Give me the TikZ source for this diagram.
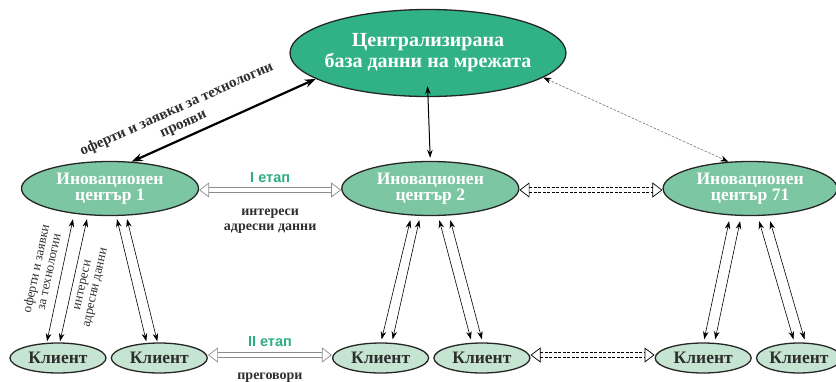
\documentclass[tikz,border=0pt]{standalone}
\usepackage{fontspec}
\setmainfont{Liberation Serif}
\newfontfamily\etapfont{Liberation Sans}
\usetikzlibrary{arrows.meta,shapes.geometric,calc,positioning}

\definecolor{dbgreen}{HTML}{30B286}
\definecolor{icgreen}{HTML}{7DC6A3}
\definecolor{clgreen}{HTML}{C5E4D2}
\definecolor{etapgreen}{HTML}{2CAE80}
\definecolor{txtgray}{HTML}{2E2E2E}

\begin{document}
\begin{tikzpicture}[x=1pt, y=-1pt, >={Stealth[length=8pt,width=5.5pt]}, line width=0.6pt]

    \tikzstyle{base} = [ellipse, draw=black!85, line width=1.3pt, inner sep=0pt, align=center]
    \tikzstyle{dbnode} = [base, fill=dbgreen, text=white, minimum width=276pt, minimum height=87pt, inner xsep=-30pt, font=\fontsize{20}{21}\selectfont\bfseries]
    \tikzstyle{icnode} = [base, fill=icgreen, text=white, minimum width=177pt, minimum height=54pt, font=\fontsize{17.5}{15.5}\selectfont\bfseries]
    \tikzstyle{clnode} = [base, fill=clgreen, text=txtgray, minimum width=96pt, minimum height=30pt, font=\fontsize{17.5}{18}\selectfont\bfseries]
    \tikzstyle{lbl} = [text=txtgray, align=center, font=\fontsize{14}{15}\selectfont\bfseries]
    \tikzstyle{vlbl} = [text=txtgray, align=center, font=\fontsize{13}{13}\selectfont]
    \tikzstyle{etap} = [text=etapgreen, font=\fontsize{14.5}{15}\selectfont\etapfont\bfseries]
    \tikzstyle{hollow} = [draw=black!45, line width=0.7pt, double=white, double distance=4.5pt, {Triangle[open,length=10pt,width=15pt]}-{Triangle[open,length=10pt,width=15pt]}]
    \tikzstyle{hollowdash} = [hollow, draw=black, dash pattern=on 3pt off 1.5pt]

    \useasboundingbox (0,0) rectangle (836,381);

    \node (db)   [dbnode] at (428,53)          {Централизирана\\база данни на мрежата};

    \node (ic1)  [icnode] at (110,188.5)       {Иновационен\\център 1};
    \node (ic2)  [icnode, right=142pt of ic1]  {Иновационен\\център 2};
    \node (ic71) [icnode, minimum width=174pt, right=143pt of ic2] {Иновационен\\център 71};

    \node (cl1)  [clnode] at (58,358)          {Клиент};
    \node (cl2)  [clnode, right=4pt of cl1]    {Клиент};
    \node (cl3)  [clnode, right=124pt of cl2]  {Клиент};
    \node (cl4)  [clnode, right=4pt of cl3]    {Клиент};
    \node (cl5)  [clnode, right=124pt of cl4]  {Клиент};
    \node (cl6)  [clnode, minimum width=85pt, right=4pt of cl5] {Клиент};

    % database links
    \draw[<->, line width=2.2pt, >={Stealth[length=11pt,width=8pt]}] (ic1.51) -- node[lbl, pos=.31, sloped, above=2pt, font=\fontsize{15}{16}\selectfont\bfseries] {оферти и заявки за технологии\\прояви} (db.193);
    \draw[<->, line width=1pt, shorten <=-11pt, shorten >=3pt] (db.south) -- (ic2.north);
    \draw[<->, black!55, dash pattern=on 2.5pt off 1.5pt, >={Stealth[length=8pt,width=6pt,black]}] (db.-12) -- (ic71.129);

    % stage I
    \draw[hollow] ($(ic1.east)+(0,1.5)$) -- node[etap, above=4pt] {I етап} node[lbl, below=15pt] {интереси\\адресни данни} ($(ic2.west)+(0,1.5)$);
    \draw[hollowdash] ($(ic2.east)+(0,1.5)$) -- ($(ic71.west)+(0,1.5)$);

    % stage II
    \draw[hollow] ($(cl2.east)+(0,-3)$) -- node[etap, above=5pt] {II етап} node[lbl, below=14pt] {преговори} ($(cl3.west)+(0,-3)$);
    \draw[hollowdash] ($(cl4.east)+(0,-3)$) -- ($(cl5.west)+(0,-3)$);

    % centre -- client links
    \draw[<->] ($(cl1.north)+(-11,-1)$) -- node[vlbl, pos=.55, sloped, above=5pt] {оферти и заявки\\за технологии} ($(ic1.south)+(-37,3)$);
    \draw[<->] ($(cl1.north)+(2,-1)$) -- node[vlbl, pos=.48, sloped, below=3pt] {интереси\\адресни данни} ($(ic1.south)+(-23,3)$);
    \draw[<->] ($(ic1.south)+(7,3)$)   -- ($(cl2.north)+(-13,-1)$);
    \draw[<->] ($(ic1.south)+(17,3)$)  -- ($(cl2.north)+(-2,-1)$);

    \draw[<->] ($(ic2.south)+(-20,4)$) -- ($(cl3.north)+(1,-3)$);
    \draw[<->] ($(ic2.south)+(-11,4)$) -- ($(cl3.north)+(12,-3)$);
    \draw[<->] ($(ic2.south)+(9,4)$)   -- ($(cl4.north)+(-11,-3)$);
    \draw[<->] ($(ic2.south)+(20,4)$)  -- ($(cl4.north)+(0,-3)$);

    \draw[<->] ($(ic71.south)+(-21,5)$) -- ($(cl5.north)+(1,-3)$);
    \draw[<->] ($(ic71.south)+(-10,5)$) -- ($(cl5.north)+(12,-3)$);
    \draw[<->] ($(ic71.south)+(9,5)$)   -- ($(cl6.north)+(-5.5,-3)$);
    \draw[<->] ($(ic71.south)+(20,5)$)  -- ($(cl6.north)+(5.5,-3)$);
\end{tikzpicture}
\end{document}
